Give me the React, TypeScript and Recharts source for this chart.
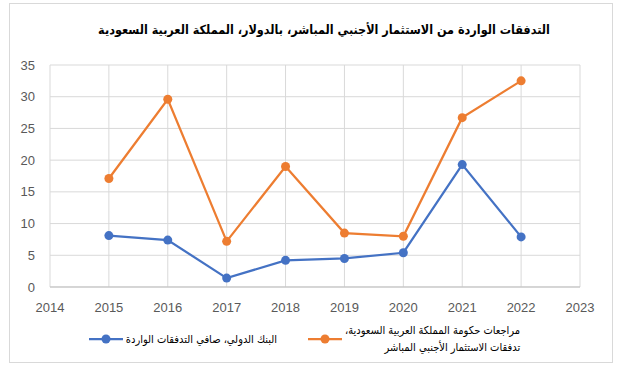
import { LineChart, Line, XAxis, YAxis, CartesianGrid, Legend } from "recharts";

const years = [2015, 2016, 2017, 2018, 2019, 2020, 2021, 2022];
const worldBankNet = [8.1, 7.4, 1.4, 4.2, 4.5, 5.4, 19.3, 7.9];
const saudiRevised = [17.1, 29.6, 7.2, 19.0, 8.5, 8.0, 26.7, 32.5];
const xTicks = [2014, 2015, 2016, 2017, 2018, 2019, 2020, 2021, 2022, 2023];
const yTicks = [0, 5, 10, 15, 20, 25, 30, 35];

const title = "التدفقات الواردة من الاستثمار الأجنبي المباشر، بالدولار، المملكة العربية السعودية";

const series = [
    { key: "worldBank", name: "البنك الدولي، صافي التدفقات الواردة", color: "#4472C4" },
    { key: "saudi", name: "مراجعات حكومة المملكة العربية السعودية،\nتدفقات الاستثمار الأجنبي المباشر", color: "#ED7D31" }
];

const data = years.map((year, i) => ({
    year,
    worldBank: worldBankNet[i],
    saudi: saudiRevised[i]
}));

const tickStyle = { fill: "#595959", fontSize: 13, fontFamily: "Liberation Sans, Arial, sans-serif" };
const arabicFont = "DejaVu Sans Condensed, DejaVu Sans, sans-serif";

const LegendContent = () => (
    <div
        style={{
            height: 40,
            display: "flex",
            alignItems: "center",
            justifyContent: "center",
            gap: 31,
            fontFamily: arabicFont,
            fontSize: 11,
            color: "#000",
            paddingTop: 4,
            paddingLeft: 19,
            boxSizing: "border-box"
        }}
    >
        {series.map((s) => (
            <div key={s.key} style={{ display: "flex", alignItems: "center" }}>
                <svg width={34} height={10} style={{ flex: "none" }}>
                    <line x1={0} y1={5} x2={34} y2={5} stroke={s.color} strokeWidth={2.25} />
                    <circle cx={17} cy={5} r={4.5} fill={s.color} />
                </svg>
                <div style={{ direction: "rtl", textAlign: "right", whiteSpace: "pre-line", lineHeight: "17px", marginLeft: 3 }}>
                    {s.name}
                </div>
            </div>
        ))}
    </div>
);

export default function App() {
    return (
        <div style={{ position: "absolute", left: 0, top: 0, width: 624, height: 372, background: "#fff" }}>
            <div
                style={{
                    position: "absolute",
                    left: 9,
                    top: 3,
                    width: 604,
                    height: 360,
                    border: "1px solid #d9d9d9",
                    boxSizing: "border-box"
                }}
            />
            <div
                style={{
                    position: "absolute",
                    left: 0,
                    top: 22,
                    width: 648,
                    textAlign: "center",
                    direction: "rtl",
                    fontFamily: arabicFont,
                    fontSize: 12.5,
                    fontWeight: 700,
                    color: "#000"
                }}
            >
                {title}
            </div>
            <LineChart width={624} height={372} data={data} margin={{ top: 65, right: 44, bottom: 15, left: 10 }}>
                <CartesianGrid stroke="#d9d9d9" />
                <XAxis
                    dataKey="year"
                    type="number"
                    domain={[2014, 2023]}
                    ticks={xTicks}
                    height={30}
                    tick={tickStyle}
                    tickLine={false}
                    tickSize={0}
                    tickMargin={16}
                    axisLine={{ stroke: "#bfbfbf" }}
                    interval={0}
                />
                <YAxis
                    domain={[0, 35]}
                    ticks={yTicks}
                    width={40}
                    tick={tickStyle}
                    tickLine={false}
                    tickSize={0}
                    tickMargin={15}
                    axisLine={false}
                    interval={0}
                />
                <Legend verticalAlign="bottom" align="center" content={<LegendContent />} />
                {series.map((s) => (
                    <Line
                        key={s.key}
                        dataKey={s.key}
                        name={s.name}
                        stroke={s.color}
                        strokeWidth={2.25}
                        dot={{ r: 4.5, fill: s.color, stroke: s.color, strokeWidth: 0 }}
                        activeDot={false}
                        isAnimationActive={false}
                    />
                ))}
            </LineChart>
        </div>
    );
}
